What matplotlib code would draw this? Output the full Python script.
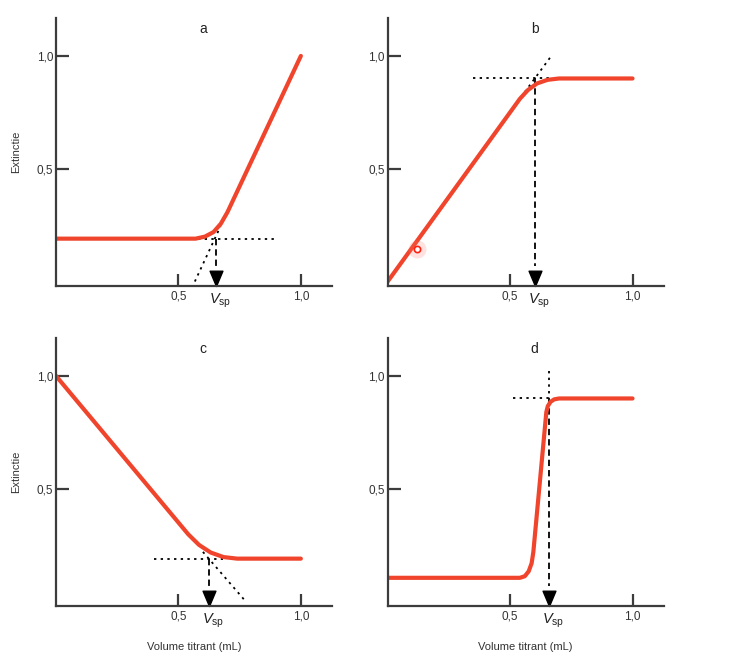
import numpy as np
import matplotlib
matplotlib.use("Agg")
import matplotlib.pyplot as plt
from matplotlib.path import Path

plt.rcParams['font.family'] = ['Liberation Sans', 'DejaVu Sans']
plt.rcParams['mathtext.fontset'] = 'custom'
plt.rcParams['mathtext.rm'] = 'Liberation Sans'
plt.rcParams['mathtext.it'] = 'Liberation Sans:italic'

#--- DATA ---#

# a: flat, then rising
xa = [0.0, 0.57, 0.608, 0.643, 0.673, 0.70, 1.0]
ya = [0.19, 0.19, 0.199, 0.219, 0.256, 0.307, 1.0]
vsp_a, lev_a = 0.655, 0.19

# b: rising, then flat
xb = [0.0, 0.54, 0.573, 0.61, 0.653, 0.70, 1.0]
yb = [0.0, 0.81, 0.849, 0.878, 0.894, 0.90, 0.90]
vsp_b, lev_b = 0.60, 0.90

# c: falling, then flat
xc = [0.0, 0.54, 0.584, 0.632, 0.684, 0.74, 1.0]
yc = [1.0, 0.298, 0.251, 0.217, 0.197, 0.19, 0.19]
vsp_c, lev_c = 0.623, 0.19

# d: steep step
xd = [0.0, 0.54, 0.560, 0.576, 0.588, 0.595, 0.648, 0.654, 0.665, 0.680, 0.70, 1.0]
yd = [0.105, 0.105, 0.112, 0.134, 0.170, 0.22, 0.84, 0.866, 0.885, 0.896, 0.90, 0.90]
vsp_d, lev_d = 0.657, 0.90

red = '#f0452c'
axc = '#3c3c3c'
xmax, ymin, ymax = 1.127, -0.02, 1.17

# arrow head with its tip at the data point
head = Path([(-0.42, 1.0), (0.42, 1.0), (0.0, 0.0), (-0.42, 1.0)],
            [Path.MOVETO, Path.LINETO, Path.LINETO, Path.CLOSEPOLY])

fig = plt.figure(figsize=(7.32, 6.58), dpi=100)
w, h = 0.377, 0.408
axa = fig.add_axes([0.0765, 0.5653, w, h])
axb = fig.add_axes([0.5296, 0.5653, w, h])
axc_ = fig.add_axes([0.0765, 0.079, w, h])
axd = fig.add_axes([0.5296, 0.079, w, h])


def style(ax, letter):
    ax.set_xlim(0, xmax)
    ax.set_ylim(ymin, ymax)
    for s in ['top', 'right']:
        ax.spines[s].set_visible(False)
    for s in ['left', 'bottom']:
        ax.spines[s].set_linewidth(1.6)
        ax.spines[s].set_color(axc)
    ax.set_xticks([0.5, 1.0])
    ax.set_xticklabels(['0,5', '1,0'])
    ax.set_yticks([0.5, 1.0])
    ax.set_yticklabels(['0,5', '1,0'])
    ax.tick_params(direction='in', length=9, width=1.6, color=axc,
                   labelsize=8.5, labelcolor='#333333', pad=3)
    ax.tick_params(axis='y', pad=2)
    ax.text(0.6, 1.12, letter, ha='center', va='center', fontsize=10, color='#222222')


def vsp(ax, x0, lev):
    ax.plot([x0, x0], [lev, 0.07], color='black', lw=1.3, ls=(0, (3.5, 2.2)))
    ax.plot([x0], [ymin], marker=head, ms=22, color='black', clip_on=False)
    ax.annotate(r'$V_{\mathrm{sp}}$', xy=(x0, ymin), xycoords='data',
                xytext=(3, -4), textcoords='offset points', ha='center', va='top',
                fontsize=10.5, color='#222222')


dot = dict(color='black', lw=1.3, ls=(0, (1.3, 2.4)))
curve = dict(color=red, lw=3, solid_capstyle='round', solid_joinstyle='round')

# a
style(axa, 'a')
axa.plot([0.58, 0.90], [lev_a, lev_a], **dot)
axa.plot([0.567, 0.672], [0.0, 0.245], **dot)
vsp(axa, vsp_a, lev_a)
axa.plot(xa, ya, **curve)
axa.set_ylabel('Extinctie', fontsize=8, color='#333333', labelpad=11)

# b
style(axb, 'b')
axb.plot([0.35, 0.66], [lev_b, lev_b], **dot)
axb.plot([0.56, 0.665], [0.84, 0.995], **dot)
vsp(axb, vsp_b, lev_b)
axb.plot(xb, yb, **curve)
axb.plot([0.12], [0.146], 'o', ms=13, color='#ff7060', alpha=0.2, mec='none')
axb.plot([0.12], [0.146], 'o', ms=4.5, mfc='white', mec='#ff2010', mew=1.2)

# c
style(axc_, 'c')
axc_.plot([0.40, 0.68], [lev_c, lev_c], **dot)
axc_.plot([0.60, 0.775], [0.22, 0.0], **dot)
vsp(axc_, vsp_c, lev_c)
axc_.plot(xc, yc, **curve)
axc_.set_ylabel('Extinctie', fontsize=8, color='#333333', labelpad=11)
axc_.set_xlabel('Volume titrant (mL)', fontsize=8, color='#333333', labelpad=14)

# d
style(axd, 'd')
axd.plot([0.51, vsp_d], [lev_d, lev_d], **dot)
axd.plot([vsp_d, vsp_d], [1.02, lev_d], **dot)
vsp(axd, vsp_d, lev_d)
axd.plot(xd, yd, **curve)
axd.set_xlabel('Volume titrant (mL)', fontsize=8, color='#333333', labelpad=14)

plt.savefig("out.png", dpi=100)
plt.close()
